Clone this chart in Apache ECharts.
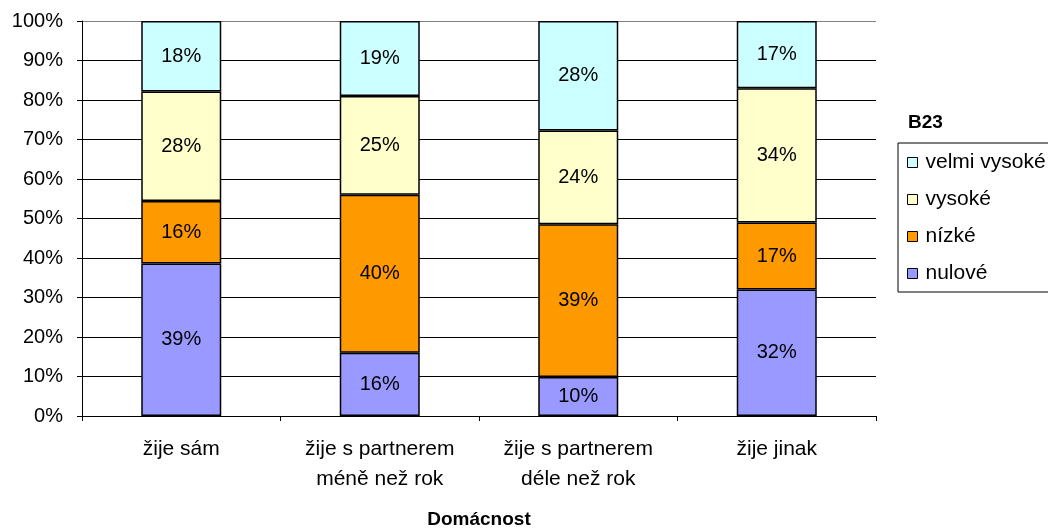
<!DOCTYPE html>
<html>
<head>
<meta charset="utf-8">
<script src="https://cdn.jsdelivr.net/npm/echarts@6/dist/echarts.min.js"></script>
<style>
html,body{margin:0;padding:0;background:#fff;}
#c{width:1048px;height:528px;}
</style>
</head>
<body>
<div id="c"></div>
<script>
const categories = ['žije sám', 'žije s partnerem\nméně než rok', 'žije s partnerem\ndéle než rok', 'žije jinak'];
const nulove = [39, 16, 10, 32];
const nizke = [16, 40, 39, 17];
const vysoke = [28, 25, 24, 34];
const velmiVysoke = [18, 19, 28, 17];
const yTicks = ['0%','10%','20%','30%','40%','50%','60%','70%','80%','90%','100%'];

const seriesDefs = [
  {name: 'nulové', data: nulove, color: '#9999FF'},
  {name: 'nízké', data: nizke, color: '#FF9900'},
  {name: 'vysoké', data: vysoke, color: '#FFFFCC'},
  {name: 'velmi vysoké', data: velmiVysoke, color: '#CCFFFF'}
];
const totals = categories.map((c, i) => seriesDefs.reduce((s, d) => s + d.data[i], 0));
const FONT = 'Liberation Sans, Arial, sans-serif';

const chart = echarts.init(document.getElementById('c'));
chart.setOption({
  animation: false,
  backgroundColor: '#fff',
  textStyle: {fontFamily: FONT},
  title: {
    text: 'B23', left: 903, top: 108,
    textStyle: {fontFamily: FONT, fontSize: 19, fontWeight: 'bold', color: '#000'}
  },
  legend: {
    data: ['velmi vysoké', 'vysoké', 'nízké', 'nulové'],
    orient: 'vertical', left: 898, top: 143,
    padding: [9, 60, 8, 9],
    borderColor: '#000', borderWidth: 1,
    itemWidth: 10, itemHeight: 10, itemGap: 16,
    icon: 'rect',
    textStyle: {fontFamily: FONT, fontSize: 21, color: '#000', padding: [0, 0, 0, 3]},
    itemStyle: {borderColor: '#000', borderWidth: 1}
  },
  grid: {left: 82, right: 172, top: 21, bottom: 112, containLabel: false, outerBoundsMode: 'none'},
  xAxis: {
    type: 'category', data: categories,
    name: 'Domácnost', nameLocation: 'middle', nameGap: 94, nameMoveOverlap: false,
    nameTextStyle: {fontFamily: FONT, fontSize: 19, fontWeight: 'bold', color: '#000'},
    axisLine: {lineStyle: {color: '#000', width: 1}},
    axisTick: {show: true, length: 5, lineStyle: {color: '#000'}},
    axisLabel: {fontFamily: FONT, fontSize: 21, color: '#000', margin: 18, lineHeight: 30}
  },
  yAxis: {
    type: 'value', min: 0, max: 100, interval: 10,
    axisLine: {show: true, lineStyle: {color: '#000', width: 1}},
    axisTick: {show: true, length: 5, lineStyle: {color: '#000'}},
    axisLabel: {fontFamily: FONT, fontSize: 20, color: '#000', margin: 19,
      formatter: (v) => yTicks[Math.round(v / 10)]},
    splitLine: {lineStyle: {color: ['#000','#000','#000','#000','#000','#000','#000','#000','#000','#000','#808080'], width: 1}}
  },
  series: seriesDefs.map(d => ({
    name: d.name, type: 'bar', stack: 'total', barWidth: 80,
    data: d.data.map((v, i) => ({value: v / totals[i] * 100, label: v})),
    itemStyle: {color: d.color, borderColor: '#000', borderWidth: 1.5},
    label: {show: true, position: 'inside', fontFamily: FONT, fontSize: 20, color: '#000',
      formatter: (p) => p.data.label + '%'}
  }))
});
</script>
</body>
</html>
